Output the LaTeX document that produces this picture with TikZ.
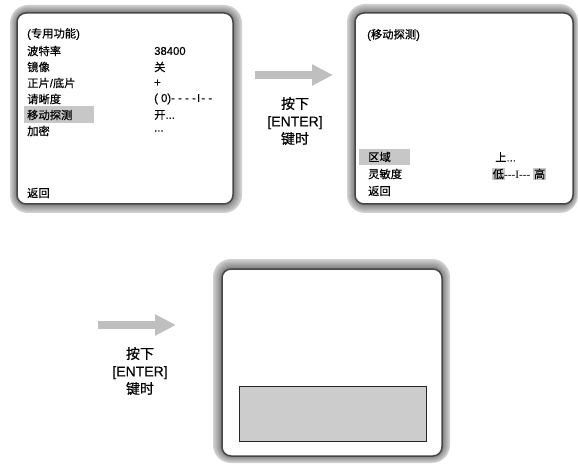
\documentclass[tikz,border=0pt]{standalone}
\usepackage{fontspec}
\setmainfont{Liberation Sans}[FakeBold=0.3]
\newfontfamily\cjk{Noto Sans CJK SC}[FakeBold=0.4]
\newfontfamily\serifnum{Liberation Serif}
\usetikzlibrary{arrows.meta,calc}
\newcommand{\zh}[1]{{\cjk #1}}
\newcommand{\hy}{\mbox{-}}

\begin{document}
\begin{tikzpicture}[
    x=1pt, y=-1pt,
    menu/.style={anchor=west, inner sep=0pt, font=\fontsize{11.3}{13}\selectfont},
    hilite/.style={fill=black!22, draw=none},
    screen/.style={draw=black!72, line width=1.5pt, fill=white, rounded corners=9pt},
    zonebox/.style={draw=black!85, line width=0.6pt, fill=black!20},
    bigarrow/.style={-{Triangle[length=21pt, width=20pt]}, line width=8pt, draw=black!25},
    caption/.style={align=center, inner sep=0pt, font=\fontsize{14}{17.5}\selectfont}
]
\useasboundingbox (0,0) rectangle (578,465);

% bevelled frames
\foreach \ox/\oy/\Ox/\Oy/\ix/\iy/\Ix/\Iy in {10/5/242/213/17/13/233/204, 347/4/578/213/355/13/573/204, 213/259/450/463/222/269/442/456}{
  \foreach \t in {0,...,7}{
    \pgfmathsetmacro{\ax}{\ox+(\ix-\ox)*\t/8}
    \pgfmathsetmacro{\ay}{\oy+(\iy-\oy)*\t/8}
    \pgfmathsetmacro{\bx}{\Ox+(\Ix-\Ox)*\t/8}
    \pgfmathsetmacro{\by}{\Oy+(\Iy-\Oy)*\t/8}
    \pgfmathsetmacro{\rad}{18-\t}
    \pgfmathtruncatemacro{\shade}{18+4.5*\t}
    \fill[black!\shade, rounded corners=\rad pt] (\ax,\ay) rectangle (\bx,\by);
  }
}

\node[screen, minimum width=216pt, minimum height=191pt] (scr1) at (125,108.5) {};
\node[screen, minimum width=218pt, minimum height=191pt] (scr2) at (464,108.5) {};
\node[screen, minimum width=220pt, minimum height=187pt] (scr3) at (332,362.5) {};

% screen 1
\fill[hilite] (24,106) rectangle (94,123);
\node[menu] (title1) at (27,34) {(\zh{专用功能})};
\node[menu] (baud) at (27,51) {\zh{波特率}};
\node[menu] (mirror) at (27,67) {\zh{镜像}};
\node[menu] (nega) at (27,83) {\zh{正片}/\zh{底片}};
\node[menu] (sharp) at (27,99) {\zh{请晰度}};
\node[menu] (motion) at (27,115) {\zh{移动探测}};
\node[menu] (crypt) at (27,131) {\zh{加密}};
\node[menu] (back1) at (27,193) {\zh{返回}};
\node[menu] (baudval) at (154,51) {38400};
\node[menu] (mirrorval) at (154,67) {\zh{关}};
\node[menu] (negaval) at (154,83) {+};
\node[menu] (sharpval) at (154,99) {( 0)\hy\hspace{3.2pt}\hy\hspace{3.2pt}\hy\hspace{3.2pt}\hy\hspace{1.2pt}I\hspace{1.2pt}\hy\hspace{3.2pt}\hy};
\node[menu] (motionval) at (154,115) {\zh{开}...};
\node[menu] (cryptval) at (154,131) {...};

% screen 2
\fill[hilite] (359,149) rectangle (410,165);
\node[menu] (title2) at (367,35) {(\zh{移动探测})};
\node[menu] (area) at (368,157) {\zh{区域}};
\node[menu] (sens) at (368,174) {\zh{灵敏度}};
\node[menu] (back2) at (368,191) {\zh{返回}};
\node[menu] (areaval) at (495,157) {\zh{上}...};
\node[menu] (sensval) at (492,174) {\setlength{\fboxsep}{0.5pt}\colorbox{black!22}{\zh{低}}\kern-0.5pt{\serifnum\hy\hy\hy I\hy\hy\hy} \colorbox{black!22}{\zh{高}}};

% screen 3
\node[zonebox, minimum width=187pt, minimum height=55pt] (zone) at (332.5,413.5) {};

% arrows
\coordinate (a1s) at (255,75);
\coordinate (a1e) at (333,75);
\draw[bigarrow] (a1s) -- (a1e);
\node[caption] (press1) at (295,121) {\zh{按下}\\{[ENTER]}\\\zh{键时}};

\coordinate (a2s) at (98,325);
\coordinate (a2e) at (176,325);
\draw[bigarrow] (a2s) -- (a2e);
\node[caption] (press2) at (140,371) {\zh{按下}\\{[ENTER]}\\\zh{键时}};
\end{tikzpicture}
\end{document}
